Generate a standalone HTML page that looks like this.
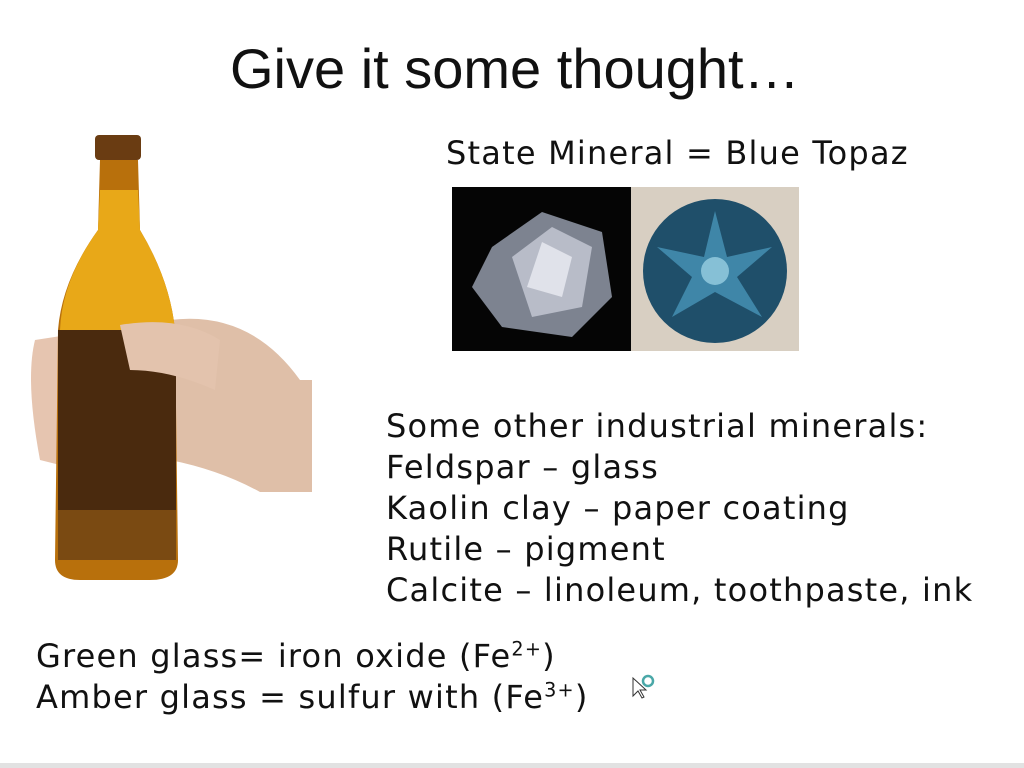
<!DOCTYPE html>
<html><head><meta charset="utf-8"><style>
body{margin:0;width:1024px;height:768px;background:#fff;position:relative;overflow:hidden;font-family:"DejaVu Sans","Liberation Sans",sans-serif;color:#111}
.t{position:absolute;white-space:nowrap}
sup{font-size:60%;vertical-align:0.6em;line-height:0}
.b{font-size:32px;letter-spacing:1.2px}
</style></head><body>
<div class="t" style="left:230px;top:36px;font-family:'Liberation Sans',sans-serif;font-size:56px;">Give it some thought…</div>
<div class="t b" style="left:446px;top:134px;">State Mineral = Blue Topaz</div>
<svg style="position:absolute;left:452px;top:187px" width="347" height="164">
<rect x="0" y="0" width="179" height="164" fill="#050505"/>
<polygon points="40,60 90,25 150,45 160,110 120,150 50,140 20,100" fill="#7d8390"/>
<polygon points="60,70 100,40 140,60 130,120 80,130" fill="#b8bcc8"/>
<polygon points="90,55 120,70 110,110 75,100" fill="#e0e2ea"/>
<rect x="179" y="0" width="168" height="164" fill="#d8cfc2"/>
<circle cx="263" cy="84" r="72" fill="#1f4f6a"/>
<polygon points="263,24 275,70 320,60 285,90 310,130 263,105 220,130 240,90 205,60 252,70" fill="#3f86a8"/>
<circle cx="263" cy="84" r="14" fill="#86c0d6"/>
</svg>
<svg style="position:absolute;left:20px;top:130px" width="300" height="455">
<path d="M15,210 Q5,250 20,330 L80,345 L80,200 Z" fill="#e6c5b0"/>
<path d="M150,190 Q230,180 280,250 L292,250 L292,362 L240,362 Q200,340 150,330 Z" fill="#dfbfa8"/>
<rect x="75" y="5" width="46" height="25" rx="4" fill="#6a3c12"/>
<path d="M80,30 L118,30 L120,100 Q150,150 155,200 L158,430 Q158,450 130,450 L60,450 Q35,450 35,430 L38,200 Q42,150 78,100 Z" fill="#b8700c"/>
<path d="M80,60 L118,60 L120,100 Q150,150 155,200 L40,200 Q42,150 78,100 Z" fill="#e8a818"/>
<rect x="38" y="200" width="118" height="180" fill="#4a2a0e"/>
<rect x="38" y="380" width="118" height="50" fill="#7a4a12"/>
<path d="M100,195 Q160,185 200,210 L195,260 Q150,240 110,240 Z" fill="#e3c3ad"/>
</svg>
<div class="b" style="position:absolute;left:386px;top:406px;line-height:41px;white-space:nowrap">
<div>Some other industrial minerals:</div>
<div>Feldspar – glass</div>
<div>Kaolin clay – paper coating</div>
<div>Rutile – pigment</div>
<div>Calcite – linoleum, toothpaste, ink</div>
</div>
<div class="b" style="position:absolute;left:36px;top:636px;line-height:41px;white-space:nowrap">
<div>Green glass= iron oxide (Fe<sup>2+</sup>)</div>
<div>Amber glass = sulfur with (Fe<sup>3+</sup>)</div>
</div>
<svg style="position:absolute;left:630px;top:670px" width="30" height="30">
<path d="M3,8 L3,26 L8,21 L12,28 L14,27 L10,20 L16,20 Z" fill="#fff" stroke="#333" stroke-width="1"/>
<circle cx="18" cy="11" r="5" fill="none" stroke="#4aa8a8" stroke-width="2.5"/>
</svg>
<div style="position:absolute;left:0;top:763px;width:1024px;height:5px;background:#e2e2e2"></div>
</body></html>
